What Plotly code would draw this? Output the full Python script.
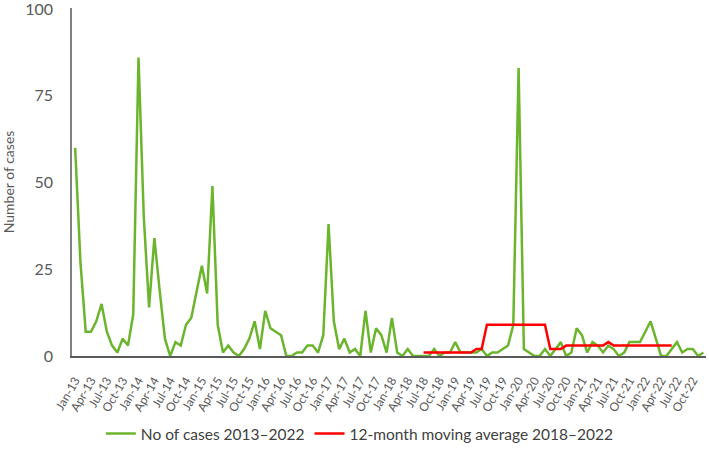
import plotly.graph_objects as go

# Monthly cases Jan-2013 .. Dec-2022
months = [f"{m}-{y}" for y in range(13, 23)
          for m in ["Jan", "Feb", "Mar", "Apr", "May", "Jun",
                    "Jul", "Aug", "Sep", "Oct", "Nov", "Dec"]]

cases = [
    60, 27, 7, 7, 10, 15, 7, 3, 1, 5, 3, 12,      # 2013
    86, 40, 14, 34, 19, 5, 0, 4, 3, 9, 11, 19,    # 2014
    26, 18, 49, 9, 1, 3, 1, 0, 2, 5, 10, 2,       # 2015
    13, 8, 7, 6, 0, 0, 1, 1, 3, 3, 1, 6,          # 2016
    38, 10, 2, 5, 1, 2, 0, 13, 1, 8, 6, 1,        # 2017
    11, 1, 0, 2, 0, 0, 0, 0, 2, 0, 1, 1,          # 2018
    4, 1, 1, 1, 1, 2, 0, 1, 1, 2, 3, 9,           # 2019
    83, 2, 1, 0, 0, 2, 0, 2, 4, 0, 1, 8,          # 2020
    6, 1, 4, 3, 1, 3, 2, 0, 1, 4, 4, 4,           # 2021
    7, 10, 5, 0, 0, 2, 4, 1, 2, 2, 0, 1,          # 2022
]

# 12-month moving average, Jul-18 .. Jun-22
ma_start = 66
moving_avg = [
    1, 1, 1, 1, 1, 1, 1, 1, 1, 1, 2, 2,
    9, 9, 9, 9, 9, 9, 9, 9, 9, 9, 9, 9,
    2, 2, 2, 3, 3, 3, 3, 3, 3, 3, 3, 4,
    3, 3, 3, 3, 3, 3, 3, 3, 3, 3, 3, 3,
]

x_cases = list(range(len(cases)))
x_ma = list(range(ma_start, ma_start + len(moving_avg)))
tick_idx = list(range(0, len(months), 3))
tick_text = [months[i] for i in tick_idx]

fig = go.Figure()
fig.add_trace(go.Scatter(
    x=x_cases, y=cases, mode="lines", name="No of cases 2013\u20132022",
    line=dict(color="#6BB52C", width=2.5),
))
fig.add_trace(go.Scatter(
    x=x_ma, y=moving_avg, mode="lines", name="12-month moving average 2018\u20132022",
    line=dict(color="#FF0000", width=2.5),
))

fig.update_layout(
    width=709, height=462,
    margin=dict(l=72, r=3, t=8, b=106),
    paper_bgcolor="white", plot_bgcolor="white",
    font=dict(family="Lato, 'Open Sans', sans-serif", color="#595959"),
    showlegend=True,
    legend=dict(orientation="h", x=0.454, xanchor="center",
                y=-0.175, yanchor="top",
                font=dict(size=15.5, color="#404040"), itemwidth=30),
)
fig.update_xaxes(
    range=[-0.6, 119.5], tickmode="array", tickvals=tick_idx, ticktext=tick_text,
    tickangle=-60, tickfont=dict(size=12, color="#595959"), ticklabelstandoff=11,
    showgrid=False, zeroline=False, showline=True, linecolor="#595959", linewidth=1.5,
    ticks="", automargin=False,
)
fig.update_yaxes(
    range=[0, 100.3], tickvals=[0, 25, 50, 75, 100],
    tickfont=dict(size=16, color="#595959"), ticklabelstandoff=14,
    ticklabeloverflow="allow",
    title=dict(text="Number of cases", font=dict(size=14, color="#595959"), standoff=16),
    showgrid=False, zeroline=False, showline=True, linecolor="#808080", linewidth=1.5,
    ticks="", automargin=False,
)

# page body has a default 8px margin; drop it so the chart sits at the window origin
fig.write_html("out.html", config={"displayModeBar": False},
               post_script="document.body.style.margin='0';")
